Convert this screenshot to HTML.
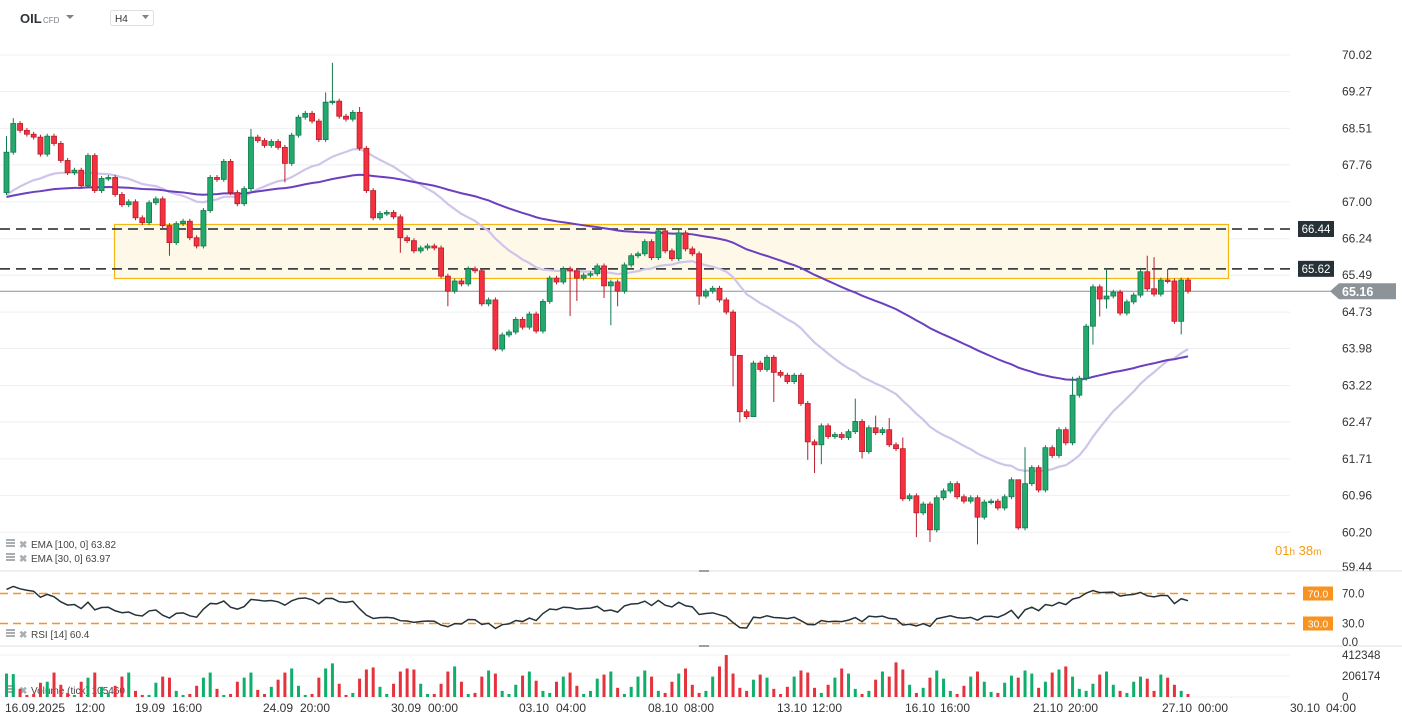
<!DOCTYPE html>
<html><head><meta charset="utf-8"><style>
body{margin:0;background:#fff;font-family:"Liberation Sans",sans-serif;}
svg{display:block}
text{font-family:"Liberation Sans",sans-serif}
</style></head><body>
<svg id="chart" width="1402" height="725" viewBox="0 0 1402 725">
<g id="header">
<text x="20" y="23" font-size="13" font-weight="bold" fill="#2d3339">OIL</text>
<text x="43" y="23" font-size="8" fill="#7a8188">CFD</text>
<path d="M66 15 L74 15 L70 19 Z" fill="#7a8188"/>
<rect x="110.5" y="10.5" width="43" height="15" rx="2" fill="#fff" stroke="#dde0e3"/>
<text x="115" y="22" font-size="10" fill="#333">H4</text>
<path d="M142 15 L149 15 L145.5 19 Z" fill="#7a8188"/>
</g>
<g id="grid"></g>
<rect x="114.5" y="224.5" width="1114" height="54" fill="#fdf8e7" stroke="#f5b812" stroke-width="1.2"/>
<g id="levels"></g>
<g id="ema"></g>
<g id="candles"></g>
<g id="axis"></g>
<g id="rsi"></g>
<g id="vol"></g>
<g id="dates"></g>
</svg>
<script>
const NS='http://www.w3.org/2000/svg';
// ---- data ----
const firstOpen = 67.19;
const closes = [68.02,68.61,68.47,68.39,68.33,67.98,68.35,68.20,67.85,67.60,67.65,67.33,67.95,67.23,67.48,67.50,67.15,66.94,67.00,66.67,
66.57,66.98,67.06,66.51,66.16,66.55,66.60,66.26,66.09,66.82,67.50,67.46,67.83,67.19,66.96,67.27,68.33,68.26,68.16,68.24,
68.12,67.79,68.37,68.74,68.82,68.66,68.28,69.05,69.07,68.76,68.70,68.84,68.10,67.23,66.67,66.76,66.78,66.69,
66.26,66.20,65.99,66.05,66.09,66.05,65.47,65.16,65.37,65.31,65.62,65.58,64.90,64.98,63.97,64.26,64.32,64.58,64.42,64.69,64.34,
64.95,65.43,65.35,65.62,65.58,65.43,65.49,
65.52,65.68,65.27,65.35,65.16,65.70,65.89,65.93,66.18,65.85,66.40,65.99,65.83,66.36,66.03,65.93,65.06,65.16,65.22,64.98,
64.73,63.84,62.68,62.58,63.68,63.55,63.80,63.49,63.43,63.30,63.43,
62.85,62.06,62.00,62.39,62.17,62.21,62.15,62.27,62.48,61.86,62.35,62.25,62.31,62.00,61.92,60.89,60.95,60.60,60.78,60.25,
60.91,61.05,61.20,60.93,60.84,60.91,60.51,60.82,60.84,60.70,
60.93,61.28,60.29,61.20,61.53,61.07,61.94,61.78,62.31,62.04,63.02,63.37,64.44,65.25,65.00,65.06,65.14,64.71,64.94,65.08,
65.56,65.21,65.10,65.39,65.37,64.54,65.39,65.16];
const highOverrides = {0:68.35,1:68.72,36:68.50,47:69.25,48:69.86,52:68.95,99:66.45,108:63.20,125:62.95,128:62.60,130:62.55,132:62.15,149:61.20,150:61.95,157:63.40,162:65.60,168:65.89,169:65.86,171:65.62};
const lowOverrides = {24:65.89,41:67.40,58:65.95,65:64.85,72:63.93,83:64.65,84:64.96,88:65.02,89:64.46,90:64.85,102:64.88,107:63.20,108:62.46,110:62.72,113:62.88,118:61.69,119:61.42,120:61.60,126:61.72,134:60.10,136:60.00,143:59.95,149:60.25,160:64.06,161:64.64,162:64.80,173:64.27};
const volumes = [230,225,80,20,30,140,150,240,120,40,20,150,190,240,100,40,110,200,240,60,
20,20,140,200,190,60,20,30,110,190,240,80,20,30,150,190,240,70,30,100,
170,240,280,110,20,30,190,280,330,130,20,40,180,270,290,100,30,130,250,280,
270,130,30,30,130,250,300,150,30,40,200,260,230,60,30,120,210,250,160,60,
40,150,200,240,110,30,60,180,220,250,90,30,100,200,260,200,60,40,150,230,
280,120,40,60,200,300,412,230,90,60,170,220,190,80,30,100,200,260,240,90,
40,120,190,280,230,80,30,60,170,250,200,340,270,120,40,90,190,260,180,60,
30,110,200,250,150,50,40,140,210,190,260,230,90,150,240,270,300,200,80,60,
130,220,250,120,60,40,150,200,180,60,220,190,120,60,30];
const priceTicks = [70.02,69.27,68.51,67.76,67.00,66.24,65.49,64.73,63.98,63.22,62.47,61.71,60.96,60.20,59.44];
const levelValues = [66.44,65.62];
const lastPrice = 65.16;
const rsiLevels = [70,30];
const volTicks = [412348,206174,0];
const dateLabels = ["16.09.2025","12:00","19.09","16:00","24.09","20:00","30.09","00:00","03.10","04:00","08.10","08:00","13.10","12:00","16.10","16:00","21.10","20:00","27.10","00:00","30.10","04:00"];
const dateX = [5,75,135,172,263,300,391,428,519,556,648,684,777,812,905,940,1033,1068,1162,1198,1290,1326];
const ema100Seed = 67.08, ema30Seed = 67.08;

// ---- axes ----
const N = closes.length;
const xOf = i => 6.5 + i*(1188-6.5)/(N-1);
const yP = p => 55 + (70.02-p)*48.6;
const yR = r => 646 - r*0.75;
const yV = v => 697 - v/412348*42;

function el(tag, attrs, parent){const e=document.createElementNS(NS,tag);for(const k in attrs)e.setAttribute(k,attrs[k]);parent.appendChild(e);return e;}
const g = id => document.getElementById(id);

priceTicks.forEach((p,i)=>{
  const y=yP(p);
  if(i<priceTicks.length-1){const l=el('line',{x1:0,x2:1290,y1:y,y2:y,stroke:'#eeeff1','stroke-width':1},g('grid'));
  
  }
  const t=el('text',{x:1342,y:Math.min(y+4,571),'font-size':12,fill:'#333'},g('axis'));
  t.textContent=p.toFixed(2);
  
  
});
levelValues.forEach(v=>{
  const y=yP(v);
  const l=el('line',{x1:0,x2:1292,y1:y,y2:y,stroke:'#3b4245','stroke-width':1.8,'stroke-dasharray':'10 6'},g('levels'));
  
  
  const r=el('rect',{x:1298,y:y-8,width:36,height:16,fill:'#263238'},g('levels'));
  
  
  const t=el('text',{x:1316,y:y+4,'font-size':11.5,fill:'#fff','text-anchor':'middle'},g('levels'));
  t.textContent=v.toFixed(2);
  
  
});
{const y=yP(lastPrice);
const l=el('line',{x1:0,x2:1333,y1:y,y2:y,stroke:'#8a9196','stroke-width':1},g('levels'));


const pth=el('path',{d:`M1330 ${y} L1339 ${y-8} L1396 ${y-8} L1396 ${y+8} L1339 ${y+8} Z`,fill:'#8d9499'},g('levels'));


const t=el('text',{x:1342,y:y+5,'font-size':12.5,'font-weight':'bold',fill:'#fff'},g('levels'));
t.textContent=lastPrice.toFixed(2);

}

const opens=[]; let prev=firstOpen;
closes.forEach(c=>{opens.push(prev);prev=c;});
const vcol=[];
closes.forEach((c,i)=>{
  const o=opens[i], up=c>=o, x=xOf(i);
  const hi = highOverrides[i]!==undefined?highOverrides[i]:Math.max(o,c)+0.05;
  const lo = lowOverrides[i]!==undefined?lowOverrides[i]:Math.min(o,c)-0.05;
  const fill=up?'#23a86d':'#f5303f', stroke=up?'#137a4d':'#b81d2b';
  vcol.push(up?'#0fae6a':'#e5323c');
  const w=el('line',{x1:x,x2:x,y1:yP(hi),y2:yP(lo),stroke:stroke,'stroke-width':1},g('candles'));
  
  
  const top=yP(Math.max(o,c)), h=Math.max(1.5,yP(Math.min(o,c))-top);
  const b=el('rect',{x:x-2.5,y:top,width:5,height:h,fill:fill,stroke:stroke,'stroke-width':0.8},g('candles'));
  
  
});

function ema(period, seed){const k=2/(period+1);let e=seed;return closes.map(c=>(e=c*k+e*(1-k)));}
const e30=ema(30,ema30Seed), e100=ema(100,ema100Seed);
const p30=el('polyline',{points:e30.map((v,i)=>xOf(i)+','+yP(v)).join(' '),fill:'none',stroke:'#cfc4ea','stroke-width':2.2},g('ema'));


const p100=el('polyline',{points:e100.map((v,i)=>xOf(i)+','+yP(v)).join(' '),fill:'none',stroke:'#6a3fc0','stroke-width':2},g('ema'));



[[571],[646]].forEach(([y])=>{const l=el('line',{x1:0,x2:1402,y1:y,y2:y,stroke:'#dcdfe2','stroke-width':1},g('axis'));

});
{const m=el('rect',{x:699,y:570,width:10,height:2,fill:'#9aa0a6'},g('axis'));


const m2=el('rect',{x:699,y:645,width:10,height:2,fill:'#9aa0a6'},g('axis'));

}
function legend(y,txt,name){
  const ic=el('g',{},g('axis'));
  
  
  for(let k=0;k<3;k++)el('rect',{x:6,y:y-8+k*3,width:9,height:2,fill:'#a9aeb3'},ic);
  const x=el('text',{x:19,y:y+1,'font-size':10,fill:'#a9aeb3','font-weight':'bold'},g('axis'));
  x.textContent='✖';
  
  
  const t=el('text',{x:31,y:y+1,'font-size':10,fill:'#444'},g('axis'));
  t.textContent=txt;
  
  
}
legend(547,'EMA [100,  0] '+e100[N-1].toFixed(2),'ema-100');
legend(561,'EMA [30,  0] '+e30[N-1].toFixed(2),'ema-30');
{const t=el('text',{x:1275,y:555,'font-size':13,fill:'#f39c12'},g('axis'));


t.innerHTML='01<tspan font-size="10">h</tspan> 38<tspan font-size="10">m</tspan>';}

let ag=0.12, al=0.06; const rsi=[];
closes.forEach((c,i)=>{const d=c-opens[i];ag=(ag*13+Math.max(d,0))/14;al=(al*13+Math.max(-d,0))/14;rsi.push(100-100/(1+ag/al));});
rsiLevels.forEach(v=>{const y=yR(v);
  const l=el('line',{x1:0,x2:1300,y1:y,y2:y,stroke:'#f7931e','stroke-width':1.6,'stroke-dasharray':'8 5'},g('rsi'));
  
  
  const r=el('rect',{x:1303,y:y-7,width:30,height:14,fill:'#f7931e'},g('rsi'));
  
  
  const t=el('text',{x:1318,y:y+4,'font-size':10.5,fill:'#fff','text-anchor':'middle'},g('rsi'));
  t.textContent=v.toFixed(1);
  
  
  const t2=el('text',{x:1342,y:y+4,'font-size':11.5,fill:'#333'},g('rsi'));
  t2.textContent=v.toFixed(1);
  
  
});
{const t=el('text',{x:1342,y:646,'font-size':11.5,fill:'#333'},g('rsi'));
t.textContent='0.0';

}
const rl=el('polyline',{points:rsi.map((v,i)=>xOf(i)+','+yR(v)).join(' '),fill:'none',stroke:'#263238','stroke-width':1.5},g('rsi'));


legend(637,'RSI [14] '+rsi[N-1].toFixed(1),'rsi');

volTicks.forEach(v=>{const y=yV(v);
  const l=el('line',{x1:0,x2:1290,y1:y,y2:y,stroke:'#f0f1f3','stroke-width':1},g('vol'));
  
  
  const t=el('text',{x:1342,y:y+4,'font-size':11.5,fill:'#333'},g('vol'));
  t.textContent=String(v);
  
  
});
volumes.slice(0,N).forEach((v,i)=>{
  const y=yV(v*1000);
  const b=el('rect',{x:xOf(i)-1.5,y:y,width:3,height:697-y,fill:vcol[i]},g('vol'));
  
  
});
legend(693,'Volume  (tick)  105460','volume');

dateLabels.forEach((d,i)=>{const t=el('text',{x:dateX[i],y:712,'font-size':12,fill:'#333'},g('dates'));
  t.textContent=d;
  
  });
</script>
</body></html>
